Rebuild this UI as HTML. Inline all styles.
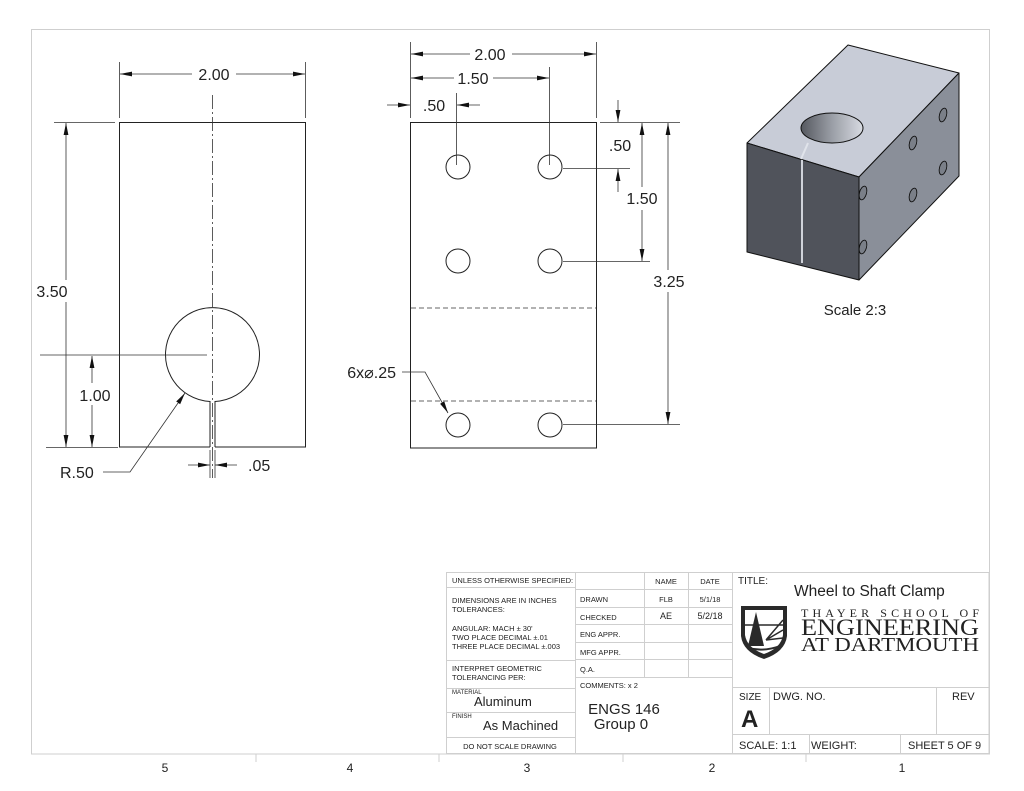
<!DOCTYPE html>
<html><head><meta charset="utf-8"><style>
html,body{margin:0;padding:0;background:#fff}
svg{display:block}
text{font-family:"Liberation Sans",sans-serif;fill:#222}
</style></head><body>
<svg width="1024" height="791" viewBox="0 0 1024 791" xmlns="http://www.w3.org/2000/svg">
<defs>
<marker id="a" viewBox="0 0 12 6" refX="12" refY="3" markerWidth="12" markerHeight="6" orient="auto-start-reverse" markerUnits="userSpaceOnUse"><path d="M0,0.6 L12,3 L0,5.4 z" fill="#111"/></marker>
<linearGradient id="hg" x1="0" x2="1"><stop offset="0" stop-color="#55585f"/><stop offset="0.5" stop-color="#9a9ea6"/><stop offset="1" stop-color="#d8dbe2"/></linearGradient>
</defs>
<!-- frame -->
<rect x="31.5" y="29.5" width="958" height="724.5" fill="none" stroke="#cfcfcf" stroke-width="1"/>
<g stroke="#cfcfcf" stroke-width="1">
<line x1="256" y1="754" x2="256" y2="762"/><line x1="439" y1="754" x2="439" y2="762"/>
<line x1="623" y1="754" x2="623" y2="762"/><line x1="806" y1="754" x2="806" y2="762"/>
</g>
<g font-size="12" text-anchor="middle"><text x="165" y="772">5</text><text x="350" y="772">4</text><text x="527" y="772">3</text><text x="712" y="772">2</text><text x="902" y="772">1</text></g>

<!-- LEFT VIEW -->
<g stroke="#222" stroke-width="1" fill="none">
<path d="M210,447 L119.5,447 L119.5,122.5 L305.5,122.5 L305.5,447 L215,447"/>
<path d="M210,447 L210,401.5 A47,47 0 1 1 215,401.5 L215,447"/>
</g>
<line x1="212.5" y1="95" x2="212.5" y2="478" stroke="#333" stroke-width="0.8" stroke-dasharray="14,3,2,3"/>
<g stroke="#333" stroke-width="0.8" fill="none">
<line x1="119.5" y1="62" x2="119.5" y2="118"/><line x1="305.5" y1="62" x2="305.5" y2="118"/>
<line x1="54" y1="122.5" x2="115" y2="122.5"/><line x1="46" y1="447.5" x2="118" y2="447.5"/>
<line x1="40" y1="355" x2="207" y2="355"/>
<line x1="210" y1="450" x2="210" y2="478"/><line x1="215" y1="450" x2="215" y2="478"/>
<polyline points="103,472 130,472 185,393" marker-end="url(#a)"/>
<line x1="188" y1="465" x2="210" y2="465" marker-end="url(#a)"/>
<line x1="237" y1="465" x2="215" y2="465" marker-end="url(#a)"/>
<line x1="192" y1="74" x2="120" y2="74" marker-end="url(#a)"/>
<line x1="236" y1="74" x2="305" y2="74" marker-end="url(#a)"/>
<line x1="66" y1="280" x2="66" y2="123" marker-end="url(#a)"/>
<line x1="66" y1="302" x2="66" y2="447" marker-end="url(#a)"/>
<line x1="92" y1="383" x2="92" y2="356" marker-end="url(#a)"/>
<line x1="92" y1="405" x2="92" y2="447" marker-end="url(#a)"/>
</g>
<g font-size="16">
<text x="214" y="80" text-anchor="middle">2.00</text>
<text x="52" y="297" text-anchor="middle">3.50</text>
<text x="95" y="401" text-anchor="middle">1.00</text>
<text x="60" y="478">R.50</text>
<text x="248" y="471">.05</text>
</g>

<!-- MIDDLE VIEW -->
<rect x="410.5" y="122.5" width="186" height="325.5" fill="none" stroke="#222" stroke-width="1"/>
<g stroke="#222" stroke-width="1" fill="none">
<circle cx="458" cy="167" r="12"/><circle cx="550" cy="167" r="12"/>
<circle cx="458" cy="261" r="12"/><circle cx="550" cy="261" r="12"/>
<circle cx="458" cy="425" r="12"/><circle cx="550" cy="425" r="12"/>
</g>
<g stroke="#333" stroke-width="0.8" stroke-dasharray="5,3"><line x1="411" y1="308" x2="596" y2="308"/><line x1="411" y1="401" x2="596" y2="401"/></g>
<g stroke="#333" stroke-width="0.8" fill="none">
<line x1="410.5" y1="42" x2="410.5" y2="118"/><line x1="596.5" y1="42" x2="596.5" y2="118"/>
<line x1="549.5" y1="67" x2="549.5" y2="165"/><line x1="456.5" y1="93" x2="456.5" y2="165"/>
<line x1="470" y1="54" x2="411" y2="54" marker-end="url(#a)"/>
<line x1="512" y1="54" x2="596" y2="54" marker-end="url(#a)"/>
<line x1="454" y1="78" x2="411" y2="78" marker-end="url(#a)"/>
<line x1="493" y1="78" x2="549" y2="78" marker-end="url(#a)"/>
<line x1="387" y1="105" x2="410" y2="105" marker-end="url(#a)"/>
<line x1="480" y1="105" x2="457" y2="105" marker-end="url(#a)"/>
<line x1="600" y1="122.5" x2="680" y2="122.5"/>
<line x1="563" y1="168.5" x2="630" y2="168.5"/>
<line x1="563" y1="261.5" x2="650" y2="261.5"/>
<line x1="563" y1="424.5" x2="680" y2="424.5"/>
<line x1="618" y1="100" x2="618" y2="122" marker-end="url(#a)"/>
<line x1="618" y1="192" x2="618" y2="169" marker-end="url(#a)"/>
<line x1="642" y1="187" x2="642" y2="123" marker-end="url(#a)"/>
<line x1="642" y1="210" x2="642" y2="261" marker-end="url(#a)"/>
<line x1="668" y1="270" x2="668" y2="123" marker-end="url(#a)"/>
<line x1="668" y1="292" x2="668" y2="424" marker-end="url(#a)"/>
<polyline points="402,372 425,372 448,413" marker-end="url(#a)"/>
</g>
<g font-size="16">
<text x="490" y="60" text-anchor="middle">2.00</text>
<text x="473" y="84" text-anchor="middle">1.50</text>
<text x="434" y="111" text-anchor="middle">.50</text>
<text x="620" y="151" text-anchor="middle">.50</text>
<text x="642" y="204" text-anchor="middle">1.50</text>
<text x="669" y="287" text-anchor="middle">3.25</text>
<text x="396" y="378" text-anchor="end">6x⌀.25</text>
</g>

<!-- ISO VIEW -->
<g stroke="#111" stroke-width="1" stroke-linejoin="round">
<polygon points="747,143 848,45 959,73 859,177" fill="#c8ccd7"/>
<polygon points="859,177 959,73 959,176 859,280" fill="#8a8f99"/>
<polygon points="747,143 859,177 859,280 747,252" fill="#50535b"/>
<ellipse cx="832" cy="128" rx="31" ry="15" fill="url(#hg)"/>
<line x1="801" y1="159" x2="808" y2="143" stroke="#e0e3ea" stroke-width="2"/>
<line x1="802" y1="160" x2="802" y2="263" stroke="#d0d3da" stroke-width="2"/>
</g>
<g fill="#7a7f88" stroke="#111" stroke-width="0.9">
<ellipse cx="943" cy="115" rx="3.5" ry="7" transform="rotate(15 943 115)"/>
<ellipse cx="943" cy="168" rx="3.5" ry="7" transform="rotate(15 943 168)"/>
<ellipse cx="913" cy="143" rx="3.5" ry="7" transform="rotate(15 913 143)"/>
<ellipse cx="913" cy="195" rx="3.5" ry="7" transform="rotate(15 913 195)"/>
<ellipse cx="863" cy="193" rx="3.5" ry="7" transform="rotate(15 863 193)"/>
<ellipse cx="863" cy="247" rx="3.5" ry="7" transform="rotate(15 863 247)"/>
</g>
<text x="855" y="315" font-size="15" text-anchor="middle">Scale 2:3</text>

<!-- TITLE BLOCK -->
<g stroke="#cfcfcf" stroke-width="1" fill="none">
<rect x="446.5" y="572.5" width="542.5" height="181"/>
<line x1="575.5" y1="572" x2="575.5" y2="754"/>
<line x1="644.5" y1="572" x2="644.5" y2="677"/>
<line x1="688.5" y1="572" x2="688.5" y2="677"/>
<line x1="732.5" y1="572" x2="732.5" y2="754"/>
<line x1="446" y1="587.5" x2="575" y2="587.5"/>
<line x1="446" y1="660.5" x2="575" y2="660.5"/>
<line x1="446" y1="688.5" x2="575" y2="688.5"/>
<line x1="446" y1="712.5" x2="575" y2="712.5"/>
<line x1="446" y1="737.5" x2="575" y2="737.5"/>
<line x1="575" y1="589.5" x2="732" y2="589.5"/>
<line x1="575" y1="607.5" x2="732" y2="607.5"/>
<line x1="575" y1="624.5" x2="732" y2="624.5"/>
<line x1="575" y1="642.5" x2="732" y2="642.5"/>
<line x1="575" y1="659.5" x2="732" y2="659.5"/>
<line x1="575" y1="677.5" x2="732" y2="677.5"/>
<line x1="732" y1="687.5" x2="989" y2="687.5"/>
<line x1="732" y1="734.5" x2="989" y2="734.5"/>
<line x1="769.5" y1="687" x2="769.5" y2="734"/>
<line x1="936.5" y1="687" x2="936.5" y2="734"/>
<line x1="809.5" y1="734" x2="809.5" y2="754"/>
<line x1="900.5" y1="734" x2="900.5" y2="754"/>
<line x1="989.5" y1="29" x2="989.5" y2="754"/>
</g>
<g font-size="7.5" fill="#333">
<text x="452" y="583">UNLESS OTHERWISE SPECIFIED:</text>
<text x="452" y="603">DIMENSIONS ARE IN INCHES</text>
<text x="452" y="612">TOLERANCES:</text>
<text x="452" y="631">ANGULAR: MACH ±  30'</text>
<text x="452" y="640">TWO PLACE DECIMAL    ±.01</text>
<text x="452" y="649">THREE PLACE DECIMAL  ±.003</text>
<text x="452" y="671">INTERPRET GEOMETRIC</text>
<text x="452" y="680">TOLERANCING PER:</text>
<text x="452" y="694" font-size="6">MATERIAL</text>
<text x="452" y="718" font-size="6">FINISH</text>
<text x="510" y="749" text-anchor="middle">DO NOT SCALE DRAWING</text>
<text x="666" y="584" text-anchor="middle">NAME</text>
<text x="710" y="584" text-anchor="middle">DATE</text>
<text x="580" y="602">DRAWN</text>
<text x="666" y="602" text-anchor="middle">FLB</text>
<text x="710" y="602" text-anchor="middle">5/1/18</text>
<text x="580" y="620">CHECKED</text>
<text x="666" y="619" text-anchor="middle" font-size="9">AE</text>
<text x="710" y="619" text-anchor="middle" font-size="9">5/2/18</text>
<text x="580" y="637">ENG APPR.</text>
<text x="580" y="655">MFG APPR.</text>
<text x="580" y="672">Q.A.</text>
<text x="580" y="688">COMMENTS:   x 2</text>
</g>
<text x="474" y="706" font-size="13">Aluminum</text>
<text x="483" y="730" font-size="13">As Machined</text>
<text x="624" y="714" font-size="15" text-anchor="middle">ENGS 146</text>
<text x="621" y="729" font-size="15" text-anchor="middle">Group 0</text>
<text x="738" y="584" font-size="10">TITLE:</text>
<text x="794" y="596" font-size="15.5">Wheel to Shaft Clamp</text>
<path d="M741,606 L787,606 L787,636 Q785,652 764,659 Q743,652 741,636 Z" fill="#2a2a2a"/>
<path d="M745,610 L783,610 L783,635 Q781,648 764,654 Q747,648 745,635 Z" fill="#fff"/>
<polygon points="756,612 748,646 764,646" fill="#2a2a2a"/>
<path d="M766,640 L783,620 M766,640 L783,630 M766,640 L783,638 M745,625 L783,625" stroke="#2a2a2a" stroke-width="1.5"/>
<path d="M748,648 Q764,652 780,646" stroke="#2a2a2a" stroke-width="2" fill="none"/>
<g font-family="Liberation Serif,serif" fill="#3a3a3a">
<text x="801" y="617" font-size="12" textLength="178" lengthAdjust="spacing" style="font-family:'Liberation Serif',serif">THAYER SCHOOL OF</text>
<text x="801" y="635" font-size="23" textLength="178" lengthAdjust="spacingAndGlyphs" style="font-family:'Liberation Serif',serif">ENGINEERING</text>
<text x="801" y="651" font-size="20" textLength="178" lengthAdjust="spacingAndGlyphs" style="font-family:'Liberation Serif',serif">AT DARTMOUTH</text>
</g>
<text x="739" y="700" font-size="10">SIZE</text>
<text x="741" y="727" font-size="24" font-weight="bold" fill="#000">A</text>
<text x="773" y="700" font-size="11">DWG.  NO.</text>
<text x="952" y="700" font-size="11">REV</text>
<text x="739" y="749" font-size="11">SCALE: 1:1</text>
<text x="811" y="749" font-size="11">WEIGHT:</text>
<text x="908" y="749" font-size="11">SHEET 5 OF 9</text>
</svg>
</body></html>
